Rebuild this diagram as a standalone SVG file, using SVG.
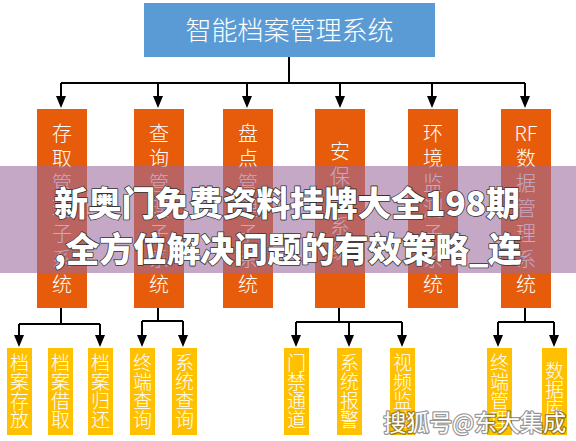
<svg xmlns="http://www.w3.org/2000/svg" width="576" height="441" viewBox="0 0 576 441">
<style>
text{font-family:"Noto Sans CJK SC","Noto Sans",sans-serif;fill:#fff;text-anchor:middle;dominant-baseline:central}
.top{fill:#5B9BD5}
.sub{fill:#E65C0A}
.leaf{fill:#FFC000}
.t1{font-size:26px;font-weight:300}
.t2{font-size:20px;font-weight:300}
.t3{font-size:19px;font-weight:300}
.conn{fill:none;stroke:#000;stroke-width:2}
.banner{font-size:34px;font-weight:900;text-anchor:start;stroke:#333;stroke-width:1.6;paint-order:stroke fill;stroke-linejoin:round}
.wm{font-size:23px;text-anchor:end;stroke:rgba(60,60,60,0.55);stroke-width:2.5;paint-order:stroke fill;stroke-linejoin:round}
</style>
<rect width="576" height="441" fill="#fff"/>
<g id="connectors" class="conn">
<path d="M289,57 V83 M61,83 H525"/>
<path d="M61,83 V97 M158,83 V97 M247,83 V97 M340,83 V97 M432,83 V97 M525,83 V97"/>
<path d="M61,308 V324 M19,324 H100 M19,324 V336 M100,324 V336"/>
<path d="M158,308 V321 M142,321 H183 M142,321 V336 M183,321 V336"/>
<path d="M339,308 V322 M296,322 H402 M296,322 V336 M349,322 V336 M402,322 V336"/>
<path d="M525,308 V322 M498,322 H554 M498,322 V336 M554,322 V336"/>
<g fill="#000" stroke="none">
<path d="M56,96 H66 L61,108 Z M153,96 H163 L158,108 Z M242,96 H252 L247,108 Z M335,96 H345 L340,108 Z M427,96 H437 L432,108 Z M520,96 H530 L525,108 Z"/>
<path d="M14,335 H24 L19,347 Z M95,335 H105 L100,347 Z M137,335 H147 L142,347 Z M178,335 H188 L183,347 Z"/>
<path d="M291,335 H301 L296,347 Z M344,335 H354 L349,347 Z M397,335 H407 L402,347 Z M493,335 H503 L498,347 Z M549,335 H559 L554,347 Z"/>
</g>
</g>
<g id="root">
<rect class="top" x="144" y="3" width="291" height="54"/>
<text class="t1" x="289.5" y="28">智能档案管理系统</text>
</g>
<g id="n-cunqu">
<rect class="sub" x="37" y="109" width="50" height="199"/>
<g class="t2"><text x="62" y="132">存</text><text x="62" y="157">取</text><text x="62" y="182">管</text><text x="62" y="207">理</text><text x="62" y="232">子</text><text x="62" y="258">系</text><text x="62" y="283">统</text></g>
</g>
<g id="n-chaxun">
<rect class="sub" x="134" y="109" width="50" height="199"/>
<g class="t2"><text x="159" y="132">查</text><text x="159" y="157">询</text><text x="159" y="182">管</text><text x="159" y="207">理</text><text x="159" y="232">子</text><text x="159" y="258">系</text><text x="159" y="283">统</text></g>
</g>
<g id="n-pandian">
<rect class="sub" x="223" y="109" width="50" height="199"/>
<g class="t2"><text x="248" y="132">盘</text><text x="248" y="157">点</text><text x="248" y="182">管</text><text x="248" y="207">理</text><text x="248" y="232">子</text><text x="248" y="258">系</text><text x="248" y="283">统</text></g>
</g>
<g id="n-anbao">
<rect class="sub" x="315" y="109" width="50" height="199"/>
<g class="t2"><text x="340" y="150">安</text><text x="340" y="175">保</text><text x="340" y="200">子</text><text x="340" y="225">系</text><text x="340" y="250">统</text></g>
</g>
<g id="n-huanjing">
<rect class="sub" x="408" y="109" width="50" height="199"/>
<g class="t2"><text x="433" y="132">环</text><text x="433" y="157">境</text><text x="433" y="182">监</text><text x="433" y="207">测</text><text x="433" y="232">子</text><text x="433" y="258">系</text><text x="433" y="283">统</text></g>
</g>
<g id="n-rf">
<rect class="sub" x="501" y="109" width="50" height="199"/>
<g class="t2"><text x="526" y="132">RF</text><text x="526" y="157">数</text><text x="526" y="182">据</text><text x="526" y="207">管</text><text x="526" y="232">理</text><text x="526" y="258">系</text><text x="526" y="283">统</text></g>
</g>
<g id="l-cunfang"><rect class="leaf" x="7" y="348" width="25" height="87"/>
<g class="t3"><text x="19.5" y="361">档</text><text x="19.5" y="380">案</text><text x="19.5" y="399">存</text><text x="19.5" y="418">放</text></g></g>
<g id="l-jiequ"><rect class="leaf" x="48" y="348" width="25" height="87"/>
<g class="t3"><text x="60.5" y="361">档</text><text x="60.5" y="380">案</text><text x="60.5" y="399">借</text><text x="60.5" y="418">取</text></g></g>
<g id="l-guihuan"><rect class="leaf" x="88" y="348" width="25" height="87"/>
<g class="t3"><text x="100.5" y="361">档</text><text x="100.5" y="380">案</text><text x="100.5" y="399">归</text><text x="100.5" y="418">还</text></g></g>
<g id="l-zdcx"><rect class="leaf" x="130" y="348" width="25" height="87"/>
<g class="t3"><text x="142.5" y="361">终</text><text x="142.5" y="380">端</text><text x="142.5" y="399">查</text><text x="142.5" y="418">询</text></g></g>
<g id="l-xtcx"><rect class="leaf" x="172" y="348" width="25" height="87"/>
<g class="t3"><text x="184.5" y="361">系</text><text x="184.5" y="380">统</text><text x="184.5" y="399">查</text><text x="184.5" y="418">询</text></g></g>
<g id="l-mjtd"><rect class="leaf" x="284" y="348" width="25" height="87"/>
<g class="t3"><text x="296.5" y="361">门</text><text x="296.5" y="380">禁</text><text x="296.5" y="399">通</text><text x="296.5" y="418">道</text></g></g>
<g id="l-xtbj"><rect class="leaf" x="337" y="348" width="25" height="87"/>
<g class="t3"><text x="349.5" y="361">系</text><text x="349.5" y="380">统</text><text x="349.5" y="399">报</text><text x="349.5" y="418">警</text></g></g>
<g id="l-spjk"><rect class="leaf" x="390" y="348" width="25" height="87"/>
<g class="t3"><text x="402.5" y="361">视</text><text x="402.5" y="380">频</text><text x="402.5" y="399">监</text><text x="402.5" y="418">控</text></g></g>
<g id="l-zdgl"><rect class="leaf" x="487" y="348" width="25" height="87"/>
<g class="t3"><text x="499.5" y="361">终</text><text x="499.5" y="380">端</text><text x="499.5" y="399">管</text><text x="499.5" y="418">理</text></g></g>
<g id="l-sjk"><rect class="leaf" x="542" y="348" width="25" height="87"/>
<g class="t3"><text x="554.5" y="369">数</text><text x="554.5" y="388">据</text><text x="554.5" y="407">库</text></g></g>
<g id="overlay">
<rect x="0" y="166" width="576" height="107" fill="rgb(153,105,157)" fill-opacity="0.58"/>
<text class="banner" x="54" y="201" textLength="466">新奥门免费资料挂牌大全198期</text>
<text class="banner" x="54" y="247" textLength="468">,全方位解决问题的有效策略_连</text>
<text class="wm" x="566" y="421">搜狐号@东大集成</text>
</g>
</svg>
